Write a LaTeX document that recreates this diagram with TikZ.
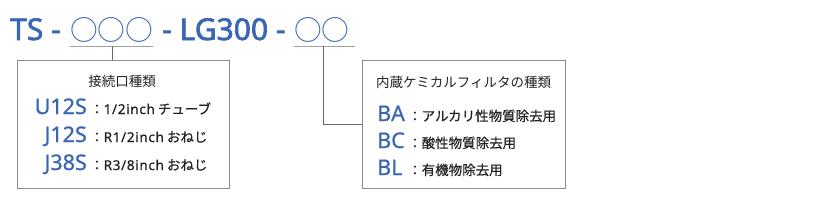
\documentclass[tikz,border=0pt]{standalone}
\usepackage{fontspec}
\setmainfont{Noto Sans}
\newfontfamily\jp{Noto Sans CJK JP}
\newfontfamily\jpd{Noto Sans CJK JP}[FakeBold=0.5]
\newfontfamily\ttlfont{Noto Sans}[FakeBold=2.2]
\newfontfamily\codefont{Noto Sans}[FakeBold=0.9]
\newfontfamily\latd{Noto Sans}[FakeBold=0.6, LetterSpace=5]
\newcommand{\lt}[1]{{\latd #1}}
\definecolor{codeblue}{HTML}{3A67B3}
\definecolor{boxgray}{HTML}{8C8C8C}
\definecolor{ulgray}{HTML}{A0A0A0}
\definecolor{conngray}{HTML}{666666}
\definecolor{txt}{HTML}{222222}
\tikzset{
  ttl/.style={inner sep=0pt, anchor=base west, text=codeblue, font=\ttlfont\fontsize{30}{30}\selectfont},
  circs/.style={inner sep=0pt, anchor=base west, text=codeblue, font=\jp\fontsize{27.7}{28}\selectfont},
  code/.style={inner sep=0pt, text=codeblue, font=\codefont\fontsize{21.5}{22}\selectfont},
  desc/.style={inner sep=0pt, anchor=base west, text=txt, font=\jpd\fontsize{13.5}{14}\selectfont},
  head/.style={inner sep=0pt, text=txt, font=\jp\fontsize{13.5}{14}\selectfont},
  boxx/.style={draw=boxgray, line width=0.9pt, rectangle, inner sep=0pt},
  uline/.style={draw=ulgray, line width=0.9pt},
  conn/.style={draw=conngray, line width=0.9pt},
}
\begin{document}
\begin{tikzpicture}[x=1pt,y=-1pt]
\useasboundingbox (0,0) rectangle (820,218);
% title
\node[ttl] (t1) at (10,40) {TS -};
\node[circs] (c1) at (70,40) {○○○};
\node[ttl] (t2) at (162,40) {- LG300 -};
\node[circs] (c2) at (294,40) {○○};
% underlines
\coordinate (u1a) at (70,46);
\coordinate (u1b) at (153,46);
\coordinate (u1m) at (112,46);
\coordinate (u2a) at (294,46);
\coordinate (u2b) at (355,46);
\coordinate (u2m) at (323,46);
% boxes
\node[boxx, minimum width=212pt, minimum height=128pt] (b1) at (123,124) {};
\node[boxx, minimum width=203pt, minimum height=128pt] (b2) at (463.5,124) {};
% connectors
\draw[uline] (u1a) -- (u1b);
\draw[uline] (u2a) -- (u2b);
\draw[conn] (u1m) -- (u1m |- b1.north);
\draw[conn] (u2m) |- (b2.west);
% box 1
\node[head, anchor=base] (h1) at (122,86) {接続口種類};
\node[code, anchor=base east] (k1) at (87,114) {U12S};
\node[desc] (d1) at (90,114) {：\lt{1/2inch} チューブ};
\node[code, anchor=base east] (k2) at (87,142) {J12S};
\node[desc] (d2) at (90,142) {：\lt{R1/2inch} おねじ};
\node[code, anchor=base east] (k3) at (87,170) {J38S};
\node[desc] (d3) at (90,170) {：\lt{R3/8inch} おねじ};
% box 2
\node[head, anchor=base west] (h2) at (376,87) {内蔵ケミカルフィルタの種類};
\node[code, anchor=base west] (m1) at (377,121) {BA};
\node[desc] (e1) at (408,121) {：アルカリ性物質除去用};
\node[code, anchor=base west] (m2) at (377,148) {BC};
\node[desc] (e2) at (408,148) {：酸性物質除去用};
\node[code, anchor=base west] (m3) at (377,175) {BL};
\node[desc] (e3) at (408,175) {：有機物除去用};
\end{tikzpicture}
\end{document}
